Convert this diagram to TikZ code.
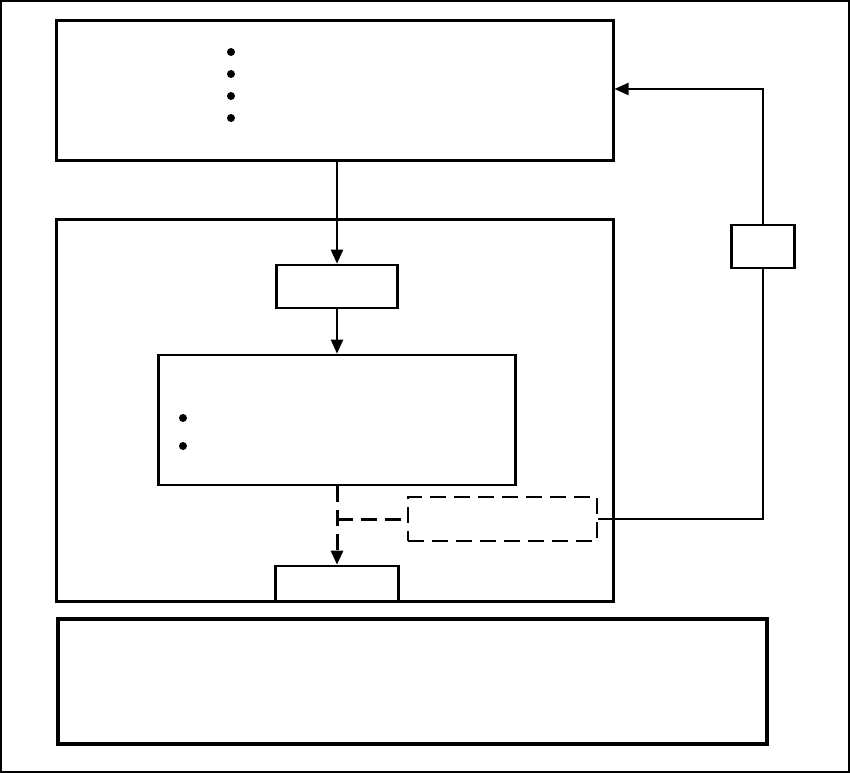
\documentclass[tikz,border=0pt]{standalone}
\usetikzlibrary{arrows.meta,calc}
\begin{document}
\begin{tikzpicture}[x=1pt,y=-1pt,
  box/.style={draw,line width=3pt,rectangle,inner sep=0pt},
  thinbox/.style={draw,line width=2.6pt,rectangle,inner sep=0pt},
  dbox/.style={draw,line width=2.6pt,rectangle,inner sep=0pt,dash pattern=on 16pt off 8pt},
  dot/.style={circle,fill,inner sep=0pt,minimum width=7pt,minimum height=8pt},
  conn/.style={line width=2pt,-{Triangle[length=14pt,width=12pt]}},
  dconn/.style={line width=3pt,dash pattern=on 16pt off 8pt},
  wire/.style={line width=2pt}]
\useasboundingbox (0,0) rectangle (850,773);
\node[draw,line width=1.6pt,minimum width=848pt,minimum height=771pt,inner sep=0pt] (frame) at (425,386.5) {};
% boxes
\node[box,minimum width=557pt,minimum height=139pt] (top) at (334.5,90.5) {};
\node[box,minimum width=557pt,minimum height=382pt] (mid) at (334.5,410) {};
\node[thinbox,minimum width=121pt,minimum height=43pt] (s1) at (337,286.5) {};
\node[thinbox,minimum width=357pt,minimum height=130pt] (b2) at (337,420) {};
\node[thinbox,minimum width=123pt,minimum height=35pt] (s3) at (337,583.5) {};
\node[dbox,minimum width=189pt,minimum height=44pt] (db) at (502.5,519) {};
\node[thinbox,minimum width=63pt,minimum height=43pt] (fb) at (763,246.5) {};
\node[draw,line width=4pt,minimum width=709pt,minimum height=125pt,inner sep=0pt] (bot) at (412.5,681.5) {};
% bullets
\node[dot] (d1) at (231,52) {};
\node[dot] (d2) at (231,74) {};
\node[dot] (d3) at (231,96) {};
\node[dot] (d4) at (231,118) {};
\node[dot] (e1) at (183,418) {};
\node[dot] (e2) at (183,446) {};
% connectors
\draw[conn] (s1.north |- top.south) -- (s1.north);
\draw[conn] (s1.south) -- (s1.south |- b2.north);
\draw[dconn,-{Triangle[length=14pt,width=12pt]}] (b2.south -| s3.north) -- (s3.north);
\draw[dconn] (s3.north |- db.west) -- (db.west);
\draw[wire] (db.east) -- (db.east -| fb.south) -- (fb.south);
\draw[conn] (fb.north) |- ($(top.east)+(0,-1.5)$);
\end{tikzpicture}
\end{document}
